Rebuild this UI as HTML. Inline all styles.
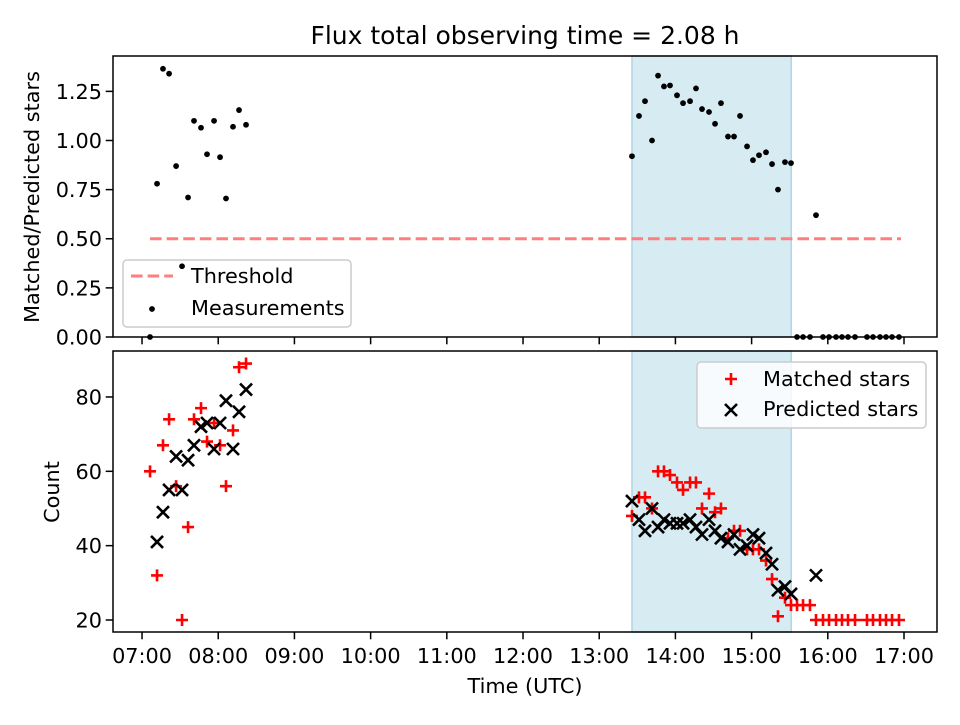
<!DOCTYPE html>
<html><head><meta charset="utf-8"><style>
body{margin:0;background:#fff}
svg text{font-family:"DejaVu Sans","Liberation Sans",sans-serif;fill:#000}
</style></head><body>
<svg id="c" width="960" height="720" xmlns="http://www.w3.org/2000/svg"></svg>
<script>
const times=[7.105,7.197,7.275,7.355,7.447,7.525,7.604,7.682,7.774,7.853,7.945,8.024,8.102,8.194,8.273,8.365,
13.430,13.522,13.601,13.693,13.772,13.850,13.929,14.021,14.100,14.192,14.270,14.349,14.441,14.520,14.598,14.690,14.769,14.848,14.940,15.018,15.097,15.189,15.268,15.346,15.438,15.517,15.596,15.675,15.766,15.845,15.937,16.016,16.108,16.186,16.265,16.357,16.514,16.593,16.685,16.764,16.843,16.934];
const ratio=[0,0.78,1.365,1.34,0.87,0.36,0.71,1.10,1.065,0.93,1.10,0.915,0.705,1.07,1.155,1.08,
0.92,1.125,1.20,1.00,1.33,1.275,1.28,1.23,1.19,1.20,1.265,1.16,1.145,1.085,1.19,1.02,1.02,1.125,0.97,0.90,0.925,0.94,0.88,0.75,0.89,0.885,0,0,0,0.62,0,0,0,0,0,0,0,0,0,0,0,0];
const matched=[60,32,67,74,56,20,45,74,77,68,73,67,56,71,88,89,
48,53,53,50,60,60,59,57,55,57,57,50,54,49,50,42,44,44,39,39,39,36,31,21,26,24,24,24,24,20,20,20,20,20,20,20,20,20,20,20,20,20];
const predicted=[null,41,49,55,64,55,63,67,72,73,66,73,79,66,76,82,
52,47,44,50,45,47,46,46,46,47,45,43,47,44,42,41,43,39,40,43,42,38,35,28,29,27,null,null,null,32,null,null,null,null,null,null,null,null,null,null,null,null];
const xTicks=[7,8,9,10,11,12,13,14,15,16,17];
const xTickLabels=["07:00","08:00","09:00","10:00","11:00","12:00","13:00","14:00","15:00","16:00","17:00"];
const yTopTicks=[0,0.25,0.5,0.75,1.0,1.25];
const yTopLabels=["0.00","0.25","0.50","0.75","1.00","1.25"];
const yBotTicks=[20,40,60,80];
const threshold=0.5, thrStart=7.105, thrEnd=16.96;
const shadeStart=13.43, shadeEnd=15.52;

const svg=document.getElementById('c');
const NS='http://www.w3.org/2000/svg';
function mk(tag,attrs,parent){const e=document.createElementNS(NS,tag);for(const k in attrs)e.setAttribute(k,attrs[k]);(parent||svg).appendChild(e);return e;}
const L=113,R=937,T1=56,B1=337,T2=351,B2=632;
const FS=20.8, TL=7.3, M=6, MW=2.6;
const X=h=>L+(h-6.619)/(17.433-6.619)*(R-L);
const Y1=v=>B1-(v-0)/1.430*(B1-T1);
const Y2=v=>B2-(v-16.77)/(92.37-16.77)*(B2-T2);

mk('rect',{x:0,y:0,width:960,height:720,fill:'#fff'});
let t=mk('text',{x:525,y:44,'text-anchor':'middle','font-size':'25'});t.textContent='Flux total observing time = 2.08 h';



[[T1,B1],[T2,B2]].forEach(([a,b],i)=>{
 const r=mk('rect',{x:X(shadeStart),y:a,width:X(shadeEnd)-X(shadeStart),height:b-a,fill:'#add8e6','fill-opacity':0.5,stroke:'#add8e6','stroke-width':1.5});
 
 
});

let th=mk('line',{x1:X(thrStart),x2:X(thrEnd),y1:Y1(threshold),y2:Y1(threshold),stroke:'#ff7f7f','stroke-width':3,'stroke-dasharray':'11.6,5'});



let g=mk('g',{});


mk('rect',{x:123,y:260,width:228,height:67,rx:4,fill:'#fff','fill-opacity':0.8,stroke:'#ccc','stroke-width':1.5},g);
mk('line',{x1:131,x2:173,y1:276,y2:276,stroke:'#ff7f7f','stroke-width':3,'stroke-dasharray':'11.6,5'},g);
t=mk('text',{x:191,y:283,'font-size':FS},g);t.textContent='Threshold';
mk('circle',{cx:152,cy:309,r:2.9,fill:'#000'},g);
t=mk('text',{x:191,y:315,'font-size':FS},g);t.textContent='Measurements';

times.forEach((h,i)=>{
 const c=mk('circle',{cx:X(h),cy:Y1(ratio[i]),r:2.9,fill:'#000'});
 
 
});
times.forEach((h,i)=>{
 const x=X(h),y=Y2(matched[i]);
 const p=mk('path',{d:`M${x-M},${y}H${x+M}M${x},${y-M}V${y+M}`,stroke:'#f00','stroke-width':MW});
 
 
});
times.forEach((h,i)=>{
 if(predicted[i]==null)return;
 const x=X(h),y=Y2(predicted[i]);
 const p=mk('path',{d:`M${x-M},${y-M}L${x+M},${y+M}M${x-M},${y+M}L${x+M},${y-M}`,stroke:'#000','stroke-width':MW});
 
 
});

[[T1,B1],[T2,B2]].forEach(([a,b],i)=>{
 const r=mk('rect',{x:L,y:a,width:R-L,height:b-a,fill:'none',stroke:'#000','stroke-width':1.5});
 
 
});
xTicks.forEach((h,i)=>{
 const x=X(h);
 mk('line',{x1:x,x2:x,y1:B1,y2:B1+TL,stroke:'#000','stroke-width':1.5});
 mk('line',{x1:x,x2:x,y1:B2,y2:B2+TL,stroke:'#000','stroke-width':1.5});
 const tx=mk('text',{x:x,y:B2+31,'text-anchor':'middle','font-size':FS});tx.textContent=xTickLabels[i];
 
 
});
yTopTicks.forEach((v,i)=>{
 const y=Y1(v);
 mk('line',{x1:L-TL,x2:L,y1:y,y2:y,stroke:'#000','stroke-width':1.5});
 const tx=mk('text',{x:L-11,y:y+7.5,'text-anchor':'end','font-size':FS});tx.textContent=yTopLabels[i];
 
 
});
yBotTicks.forEach(v=>{
 const y=Y2(v);
 mk('line',{x1:L-TL,x2:L,y1:y,y2:y,stroke:'#000','stroke-width':1.5});
 const tx=mk('text',{x:L-11,y:y+7.5,'text-anchor':'end','font-size':FS});tx.textContent=String(v);
 
 
});
t=mk('text',{x:525,y:693,'text-anchor':'middle','font-size':FS});t.textContent='Time (UTC)';


t=mk('text',{x:39,y:197,'text-anchor':'middle','font-size':FS,transform:'rotate(-90 39 197)'});t.textContent='Matched/Predicted stars';


t=mk('text',{x:59,y:492,'text-anchor':'middle','font-size':FS,transform:'rotate(-90 59 492)'});t.textContent='Count';



g=mk('g',{});


mk('rect',{x:697,y:362,width:229,height:66,rx:4,fill:'#fff','fill-opacity':0.8,stroke:'#ccc','stroke-width':1.5},g);
mk('path',{d:'M725,379H737M731,373V385',stroke:'#f00','stroke-width':MW},g);
t=mk('text',{x:763,y:386,'font-size':FS},g);t.textContent='Matched stars';
mk('path',{d:'M725,404L737,416M725,416L737,404',stroke:'#000','stroke-width':MW},g);
t=mk('text',{x:763,y:416,'font-size':FS},g);t.textContent='Predicted stars';
</script>
</body></html>
